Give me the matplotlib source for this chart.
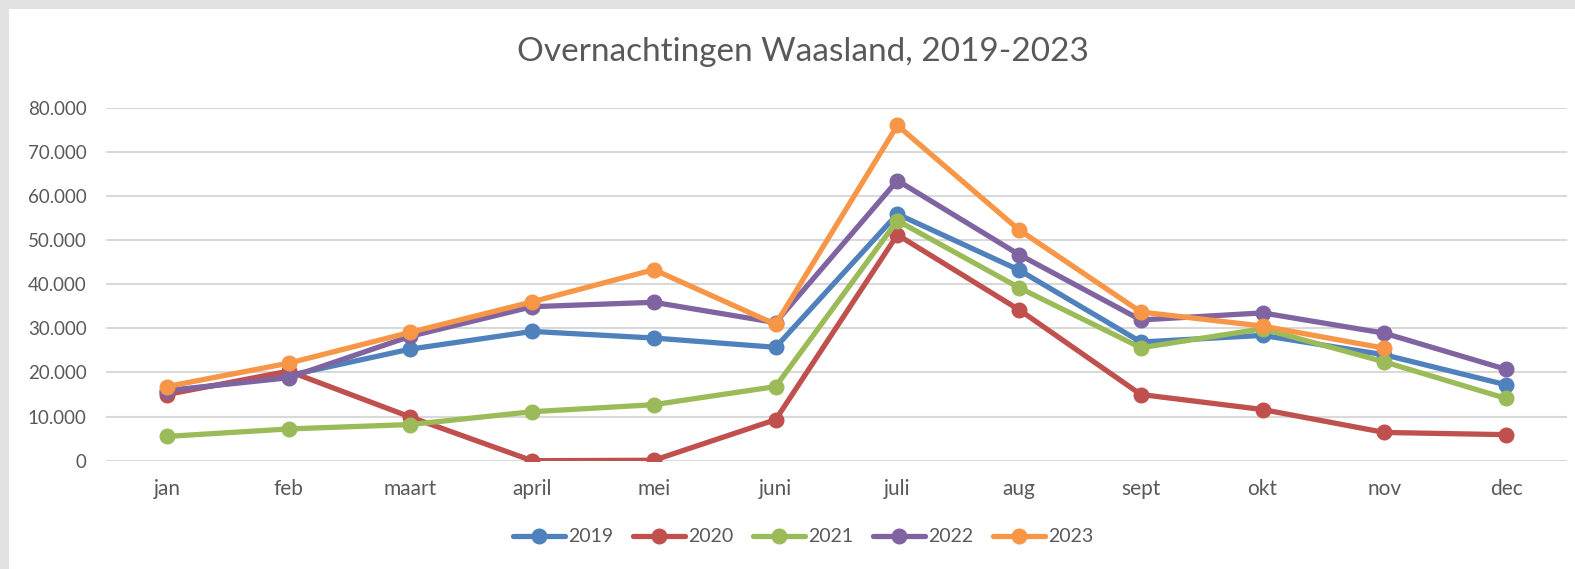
import matplotlib
matplotlib.use("Agg")
import matplotlib.pyplot as plt
from matplotlib.ticker import FuncFormatter, MultipleLocator

# maandelijkse overnachtingen per jaar
maanden = ["jan", "feb", "maart", "april", "mei", "juni",
           "juli", "aug", "sept", "okt", "nov", "dec"]
jaren = ["2019", "2020", "2021", "2022", "2023"]

v2019 = [15600, 19300, 25300, 29300, 27800, 25700, 55900, 43200, 26900, 28400, 24000, 17200]
v2020 = [15000, 20300, 9900, 0, 100, 9300, 51200, 34200, 15000, 11600, 6400, 5900]
v2021 = [5500, 7200, 8200, 11100, 12700, 16800, 54400, 39200, 25600, 29900, 22400, 14100]
v2022 = [15900, 18800, 28200, 34900, 35900, 31300, 63500, 46700, 31900, 33500, 28900, 20700]
v2023 = [16800, 22100, 29100, 36000, 43300, 30900, 76000, 52300, 33700, 30500, 25500]

kleuren = ["#4F81BD", "#C0504D", "#9BBB59", "#8064A2", "#F79646"]
reeksen = [v2019, v2020, v2021, v2022, v2023]

tekst = "#595959"
plt.rcParams["font.family"] = ["Lato", "DejaVu Sans"]

fig = plt.figure(figsize=(15.75, 5.69), dpi=100)
fig.patch.set_facecolor("#E1E1E1")
# wit grafiekvlak binnen de grijze rand
fig.patches.append(plt.Rectangle((9 / 1575, 0), 1, 1 - 9 / 569,
                                 transform=fig.transFigure,
                                 facecolor="white", edgecolor="none", zorder=-10))

ax = fig.add_axes([106 / 1575, 1 - 460.7 / 569, (1567 - 106) / 1575, (460.7 - 107.7) / 569])
ax.set_facecolor("none")
ax.set_zorder(1)

for jaar, kleur, waarden in zip(jaren, kleuren, reeksen):
    ax.plot(range(len(waarden)), waarden, color=kleur, lw=3.8,
            marker="o", markersize=10.5, label=jaar, solid_capstyle="round", zorder=3)

ax.set_xlim(-0.5, 11.5)
ax.set_ylim(0, 80000)
ax.set_xticks(range(12))
ax.set_xticklabels(maanden)
ax.yaxis.set_major_locator(MultipleLocator(10000))
ax.yaxis.set_major_formatter(FuncFormatter(lambda v, p: f"{int(v):,}".replace(",", ".")))
ax.grid(axis="y", color="#D9D9D9", lw=1.5, zorder=0)
ax.tick_params(axis="both", length=0, labelcolor=tekst)
ax.tick_params(axis="y", pad=14, labelsize=13.5)
ax.tick_params(axis="x", pad=13, labelsize=15)
for s in ax.spines.values():
    s.set_visible(False)

fig.text(0.51, 1 - 52 / 569, "Overnachtingen Waasland, 2019-2023",
         ha="center", va="center", fontsize=24, color=tekst)

fig.legend(loc="center", bbox_to_anchor=(0.51, 1 - 537 / 569), ncol=5,
           frameon=False, fontsize=14, labelcolor=tekst, handlelength=2.7,
           columnspacing=1.0, handletextpad=0.15)

fig.savefig("out.png", dpi=100, facecolor=fig.get_facecolor())
